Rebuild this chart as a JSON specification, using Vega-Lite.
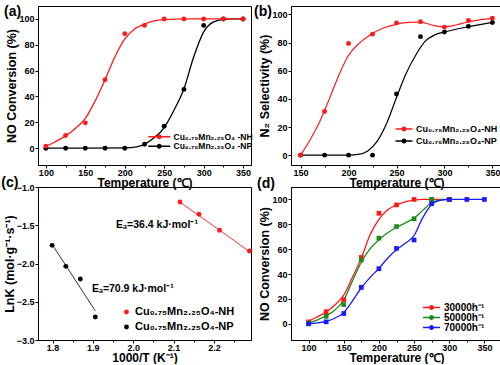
{
  "$schema": "https://vega.github.io/schema/vega-lite/v6.json",
  "padding": {"left": 0, "top": 4, "right": 0, "bottom": 0},
  "columns": 2,
  "spacing": {"row": 22, "column": 40},
  "bounds": "flush",
  "align": "each",
  "resolve": {"scale": {"color": "independent"}, "legend": {"color": "independent"}},
  "config": {
    "font": "Liberation Sans, Arial, sans-serif",
    "view": {"stroke": "black", "strokeWidth": 1},
    "axis": {"grid": false, "domainColor": "black", "tickColor": "black", "labelColor": "black", "titleColor": "black",
      "labelFontWeight": "bold", "titleFontWeight": "bold", "labelFontSize": 9, "titleFontSize": 12.5,
      "tickSize": 3, "labelPadding": 1, "titlePadding": 0, "domainWidth": 1, "tickWidth": 1,
      "labelOverlap": false, "labelFlush": false},
    "axisX": {"labelPadding": 0, "titlePadding": 0.5, "titleFontSize": 12},
    "legend": {"labelFontWeight": "bold", "labelColor": "black", "padding": 0, "offset": 0},
    "title": {"color": "black"}
  },
  "datasets": {
    "a_pts": [
      {"t": 100, "v": 0, "s": "Cu₀.₇₅Mn₂.₂₅O₄ -NP"}, {"t": 125, "v": 0, "s": "Cu₀.₇₅Mn₂.₂₅O₄ -NP"}, {"t": 150, "v": 0, "s": "Cu₀.₇₅Mn₂.₂₅O₄ -NP"},
      {"t": 175, "v": 0, "s": "Cu₀.₇₅Mn₂.₂₅O₄ -NP"}, {"t": 200, "v": 0, "s": "Cu₀.₇₅Mn₂.₂₅O₄ -NP"}, {"t": 225, "v": 3.1, "s": "Cu₀.₇₅Mn₂.₂₅O₄ -NP"},
      {"t": 250, "v": 17, "s": "Cu₀.₇₅Mn₂.₂₅O₄ -NP"}, {"t": 275, "v": 45.5, "s": "Cu₀.₇₅Mn₂.₂₅O₄ -NP"}, {"t": 300, "v": 95, "s": "Cu₀.₇₅Mn₂.₂₅O₄ -NP"},
      {"t": 325, "v": 100, "s": "Cu₀.₇₅Mn₂.₂₅O₄ -NP"}, {"t": 350, "v": 100, "s": "Cu₀.₇₅Mn₂.₂₅O₄ -NP"},
      {"t": 100, "v": 1.6, "s": "Cu₀.₇₅Mn₂.₂₅O₄ -NH"}, {"t": 125, "v": 9.8, "s": "Cu₀.₇₅Mn₂.₂₅O₄ -NH"}, {"t": 150, "v": 19.6, "s": "Cu₀.₇₅Mn₂.₂₅O₄ -NH"},
      {"t": 175, "v": 53, "s": "Cu₀.₇₅Mn₂.₂₅O₄ -NH"}, {"t": 200, "v": 88.6, "s": "Cu₀.₇₅Mn₂.₂₅O₄ -NH"}, {"t": 225, "v": 95, "s": "Cu₀.₇₅Mn₂.₂₅O₄ -NH"},
      {"t": 250, "v": 100, "s": "Cu₀.₇₅Mn₂.₂₅O₄ -NH"}, {"t": 275, "v": 100, "s": "Cu₀.₇₅Mn₂.₂₅O₄ -NH"}, {"t": 300, "v": 100, "s": "Cu₀.₇₅Mn₂.₂₅O₄ -NH"},
      {"t": 325, "v": 100, "s": "Cu₀.₇₅Mn₂.₂₅O₄ -NH"}, {"t": 350, "v": 100, "s": "Cu₀.₇₅Mn₂.₂₅O₄ -NH"}
    ],
    "a_fit": [
      {"t": 100, "v": 0, "s": "NP"}, {"t": 150, "v": 0, "s": "NP"}, {"t": 200, "v": 0.2, "s": "NP"},
      {"t": 215, "v": 1, "s": "NP"}, {"t": 225, "v": 3, "s": "NP"}, {"t": 237, "v": 8, "s": "NP"},
      {"t": 250, "v": 16, "s": "NP"}, {"t": 262, "v": 29, "s": "NP"}, {"t": 275, "v": 46, "s": "NP"},
      {"t": 287, "v": 70, "s": "NP"}, {"t": 300, "v": 90, "s": "NP"}, {"t": 312, "v": 97.5, "s": "NP"},
      {"t": 325, "v": 99.7, "s": "NP"}, {"t": 337, "v": 100, "s": "NP"}, {"t": 350, "v": 100, "s": "NP"},
      {"t": 100, "v": 1.5, "s": "NH"}, {"t": 112, "v": 5, "s": "NH"}, {"t": 125, "v": 9.5, "s": "NH"},
      {"t": 137, "v": 15, "s": "NH"}, {"t": 150, "v": 23, "s": "NH"}, {"t": 162, "v": 36, "s": "NH"},
      {"t": 175, "v": 53, "s": "NH"}, {"t": 187, "v": 70, "s": "NH"}, {"t": 200, "v": 84.5, "s": "NH"},
      {"t": 212, "v": 92, "s": "NH"}, {"t": 225, "v": 96, "s": "NH"}, {"t": 237, "v": 98.5, "s": "NH"},
      {"t": 250, "v": 99.5, "s": "NH"}, {"t": 275, "v": 100, "s": "NH"}, {"t": 300, "v": 100, "s": "NH"},
      {"t": 350, "v": 100, "s": "NH"}
    ],
    "b_pts": [
      {"t": 150, "v": 0, "s": "Cu₀.₇₅Mn₂.₂₅O₄-NP"}, {"t": 175, "v": 0, "s": "Cu₀.₇₅Mn₂.₂₅O₄-NP"}, {"t": 200, "v": 0, "s": "Cu₀.₇₅Mn₂.₂₅O₄-NP"},
      {"t": 225, "v": 0, "s": "Cu₀.₇₅Mn₂.₂₅O₄-NP"}, {"t": 250, "v": 43.5, "s": "Cu₀.₇₅Mn₂.₂₅O₄-NP"}, {"t": 275, "v": 84.2, "s": "Cu₀.₇₅Mn₂.₂₅O₄-NP"},
      {"t": 300, "v": 87.5, "s": "Cu₀.₇₅Mn₂.₂₅O₄-NP"}, {"t": 325, "v": 91.5, "s": "Cu₀.₇₅Mn₂.₂₅O₄-NP"}, {"t": 350, "v": 94.3, "s": "Cu₀.₇₅Mn₂.₂₅O₄-NP"},
      {"t": 150, "v": 0, "s": "Cu₀.₇₅Mn₂.₂₅O₄-NH"}, {"t": 175, "v": 31, "s": "Cu₀.₇₅Mn₂.₂₅O₄-NH"}, {"t": 200, "v": 79.4, "s": "Cu₀.₇₅Mn₂.₂₅O₄-NH"},
      {"t": 225, "v": 86, "s": "Cu₀.₇₅Mn₂.₂₅O₄-NH"}, {"t": 250, "v": 93.9, "s": "Cu₀.₇₅Mn₂.₂₅O₄-NH"}, {"t": 275, "v": 94.8, "s": "Cu₀.₇₅Mn₂.₂₅O₄-NH"},
      {"t": 300, "v": 91, "s": "Cu₀.₇₅Mn₂.₂₅O₄-NH"}, {"t": 325, "v": 95.7, "s": "Cu₀.₇₅Mn₂.₂₅O₄-NH"}, {"t": 350, "v": 97.4, "s": "Cu₀.₇₅Mn₂.₂₅O₄-NH"}
    ],
    "b_fit": [
      {"t": 150, "v": 0, "s": "NP"}, {"t": 200, "v": 0, "s": "NP"}, {"t": 210, "v": 0.5, "s": "NP"},
      {"t": 220, "v": 3, "s": "NP"}, {"t": 230, "v": 10, "s": "NP"}, {"t": 240, "v": 23, "s": "NP"},
      {"t": 250, "v": 41, "s": "NP"}, {"t": 260, "v": 58, "s": "NP"}, {"t": 270, "v": 71, "s": "NP"},
      {"t": 280, "v": 81, "s": "NP"}, {"t": 290, "v": 85.5, "s": "NP"}, {"t": 300, "v": 87.5, "s": "NP"},
      {"t": 312, "v": 89.5, "s": "NP"}, {"t": 325, "v": 91.3, "s": "NP"}, {"t": 337, "v": 92.8, "s": "NP"},
      {"t": 350, "v": 94.3, "s": "NP"},
      {"t": 150, "v": 0, "s": "NH"}, {"t": 160, "v": 11, "s": "NH"}, {"t": 170, "v": 24, "s": "NH"},
      {"t": 180, "v": 40, "s": "NH"}, {"t": 190, "v": 57, "s": "NH"}, {"t": 200, "v": 71, "s": "NH"},
      {"t": 212, "v": 80, "s": "NH"}, {"t": 225, "v": 86.5, "s": "NH"}, {"t": 237, "v": 90.5, "s": "NH"},
      {"t": 250, "v": 93, "s": "NH"}, {"t": 262, "v": 94.3, "s": "NH"}, {"t": 275, "v": 94.5, "s": "NH"},
      {"t": 287, "v": 92.5, "s": "NH"}, {"t": 300, "v": 91, "s": "NH"}, {"t": 312, "v": 92.5, "s": "NH"},
      {"t": 325, "v": 94.8, "s": "NH"}, {"t": 337, "v": 96.2, "s": "NH"}, {"t": 350, "v": 97.2, "s": "NH"}
    ],
    "c_pts": [
      {"x": 2.116, "y": -1.196, "s": "Cu₀.₇₅Mn₂.₂₅O₄-NH"}, {"x": 2.163, "y": -1.357, "s": "Cu₀.₇₅Mn₂.₂₅O₄-NH"},
      {"x": 2.214, "y": -1.566, "s": "Cu₀.₇₅Mn₂.₂₅O₄-NH"}, {"x": 2.288, "y": -1.837, "s": "Cu₀.₇₅Mn₂.₂₅O₄-NH"},
      {"x": 1.799, "y": -1.763, "s": "Cu₀.₇₅Mn₂.₂₅O₄-NP"}, {"x": 1.833, "y": -2.037, "s": "Cu₀.₇₅Mn₂.₂₅O₄-NP"},
      {"x": 1.869, "y": -2.203, "s": "Cu₀.₇₅Mn₂.₂₅O₄-NP"}, {"x": 1.906, "y": -2.70, "s": "Cu₀.₇₅Mn₂.₂₅O₄-NP"}
    ],
    "c_fit": [
      {"x": 2.114, "y": -1.19, "s": "NH"}, {"x": 2.29, "y": -1.85, "s": "NH"},
      {"x": 1.799, "y": -1.75, "s": "NP"}, {"x": 1.906, "y": -2.62, "s": "NP"}
    ],
    "c_ann": [
      {"x": 2.059, "y": -1.5, "label": "Eₐ=36.4 kJ·mol⁻¹"},
      {"x": 1.999, "y": -2.333, "label": "Eₐ=70.9 kJ·mol⁻¹"}
    ],
    "d_pts": [
      {"t": 100, "v": 1.6, "s": "30000h⁻¹"}, {"t": 125, "v": 9.8, "s": "30000h⁻¹"}, {"t": 150, "v": 19.4, "s": "30000h⁻¹"},
      {"t": 175, "v": 53.4, "s": "30000h⁻¹"}, {"t": 200, "v": 88.9, "s": "30000h⁻¹"}, {"t": 225, "v": 95.6, "s": "30000h⁻¹"},
      {"t": 250, "v": 100, "s": "30000h⁻¹"}, {"t": 275, "v": 100, "s": "30000h⁻¹"}, {"t": 300, "v": 100, "s": "30000h⁻¹"},
      {"t": 100, "v": 0.5, "s": "50000h⁻¹"}, {"t": 125, "v": 6, "s": "50000h⁻¹"}, {"t": 150, "v": 15.5, "s": "50000h⁻¹"},
      {"t": 175, "v": 51.3, "s": "50000h⁻¹"}, {"t": 200, "v": 68.9, "s": "50000h⁻¹"}, {"t": 225, "v": 78.2, "s": "50000h⁻¹"},
      {"t": 250, "v": 84.5, "s": "50000h⁻¹"}, {"t": 275, "v": 100, "s": "50000h⁻¹"}, {"t": 300, "v": 100, "s": "50000h⁻¹"},
      {"t": 100, "v": 0, "s": "70000h⁻¹"}, {"t": 125, "v": 1.6, "s": "70000h⁻¹"}, {"t": 150, "v": 8.3, "s": "70000h⁻¹"},
      {"t": 175, "v": 29.3, "s": "70000h⁻¹"}, {"t": 200, "v": 44.3, "s": "70000h⁻¹"}, {"t": 225, "v": 60.6, "s": "70000h⁻¹"},
      {"t": 250, "v": 67.4, "s": "70000h⁻¹"}, {"t": 275, "v": 96.6, "s": "70000h⁻¹"}, {"t": 300, "v": 100, "s": "70000h⁻¹"},
      {"t": 325, "v": 100, "s": "70000h⁻¹"}, {"t": 350, "v": 100, "s": "70000h⁻¹"}
    ],
    "d_fit": [
      {"t": 100, "v": 2, "s": "R"}, {"t": 112, "v": 5.5, "s": "R"}, {"t": 125, "v": 9.5, "s": "R"},
      {"t": 137, "v": 15, "s": "R"}, {"t": 150, "v": 23, "s": "R"}, {"t": 162, "v": 37, "s": "R"},
      {"t": 175, "v": 53, "s": "R"}, {"t": 187, "v": 71, "s": "R"}, {"t": 200, "v": 84, "s": "R"},
      {"t": 212, "v": 91.5, "s": "R"}, {"t": 225, "v": 95.5, "s": "R"}, {"t": 237, "v": 98, "s": "R"},
      {"t": 250, "v": 99.5, "s": "R"}, {"t": 262, "v": 100, "s": "R"}, {"t": 300, "v": 100, "s": "R"},
      {"t": 100, "v": 0.5, "s": "G"}, {"t": 112, "v": 3, "s": "G"}, {"t": 125, "v": 6.5, "s": "G"},
      {"t": 137, "v": 11, "s": "G"}, {"t": 150, "v": 19, "s": "G"}, {"t": 162, "v": 34, "s": "G"},
      {"t": 175, "v": 49.5, "s": "G"}, {"t": 187, "v": 60, "s": "G"}, {"t": 200, "v": 67.5, "s": "G"},
      {"t": 212, "v": 73, "s": "G"}, {"t": 225, "v": 77.5, "s": "G"}, {"t": 237, "v": 81, "s": "G"},
      {"t": 250, "v": 85, "s": "G"}, {"t": 262, "v": 91, "s": "G"}, {"t": 275, "v": 97.5, "s": "G"},
      {"t": 287, "v": 99.7, "s": "G"}, {"t": 300, "v": 100, "s": "G"},
      {"t": 100, "v": 0, "s": "B"}, {"t": 112, "v": 0.8, "s": "B"}, {"t": 125, "v": 2, "s": "B"},
      {"t": 137, "v": 4.5, "s": "B"}, {"t": 150, "v": 9, "s": "B"}, {"t": 162, "v": 18, "s": "B"},
      {"t": 175, "v": 29, "s": "B"}, {"t": 187, "v": 37, "s": "B"}, {"t": 200, "v": 44.5, "s": "B"},
      {"t": 212, "v": 52.5, "s": "B"}, {"t": 225, "v": 59.5, "s": "B"}, {"t": 237, "v": 64.5, "s": "B"},
      {"t": 250, "v": 71, "s": "B"}, {"t": 262, "v": 85, "s": "B"}, {"t": 275, "v": 96, "s": "B"},
      {"t": 287, "v": 99.3, "s": "B"}, {"t": 300, "v": 100, "s": "B"}, {"t": 350, "v": 100, "s": "B"}
    ]
  },
  "concat": [
    {
      "width": 213, "height": 159,
      "title": {"text": "(a)", "anchor": "start", "frame": "bounds", "offset": -13, "fontSize": 14, "fontWeight": "bold", "dx": -2},
      "encoding": {
        "x": {"field": "t", "type": "quantitative", "scale": {"domain": [90, 360], "nice": false, "zero": false},
          "axis": {"title": "Temperature (℃)", "values": [100,125,150,175,200,225,250,275,300,325,350],
            "labelExpr": "datum.value % 50 === 0 ? datum.label : ''",
            "tickSize": {"condition": {"test": "datum.value % 50 === 0", "value": 3}, "value": 2}}},
        "y": {"field": "v", "type": "quantitative", "scale": {"domain": [-13, 110], "nice": false, "zero": false},
          "axis": {"title": "NO Conversion (%)", "values": [0,20,40,60,80,100]}}
      },
      "layer": [
        {"data": {"name": "a_fit"}, "transform": [{"filter": "datum.s === 'NP'"}],
          "mark": {"type": "line", "interpolate": "monotone", "strokeWidth": 1.3, "color": "#000000"}},
        {"data": {"name": "a_fit"}, "transform": [{"filter": "datum.s === 'NH'"}],
          "mark": {"type": "line", "interpolate": "monotone", "strokeWidth": 1.3, "color": "#ff1a1a"}},
        {
          "data": {"name": "a_pts"},
          "mark": {"type": "point", "filled": true, "size": 24, "opacity": 1},
          "encoding": {
            "color": {"field": "s", "type": "nominal",
              "scale": {"domain": ["Cu₀.₇₅Mn₂.₂₅O₄ -NH", "Cu₀.₇₅Mn₂.₂₅O₄ -NP"], "range": ["#ff1a1a", "#000000"]},
              "legend": {"orient": "none", "legendX": 125, "legendY": 126.5, "title": null,
                "symbolType": "M-4.75,-0.19H0.75V0.19H-4.75Z M-2.625,0A0.625,0.625 0 1,1 -1.375,0A0.625,0.625 0 1,1 -2.625,0Z",
                "symbolSize": 64, "symbolStrokeWidth": 0, "labelFontSize": 8.5, "labelFontWeight": "bold", "rowPadding": 0.5, "labelOffset": 2,
                "encode": {"symbols": {"update": {"size": {"value": 64}}}}}}
          }
        }
      ]
    },
    {
      "width": 211, "height": 159,
      "title": {"text": "(b)", "anchor": "start", "frame": "bounds", "offset": -13, "fontSize": 14, "fontWeight": "bold", "dx": -5},
      "encoding": {
        "x": {"field": "t", "type": "quantitative", "scale": {"domain": [140, 360], "nice": false, "zero": false},
          "axis": {"title": "Temperature (℃)", "values": [150,175,200,225,250,275,300,325,350],
            "labelExpr": "datum.value % 50 === 0 ? datum.label : ''",
            "tickSize": {"condition": {"test": "datum.value % 50 === 0", "value": 3}, "value": 2}}},
        "y": {"field": "v", "type": "quantitative", "scale": {"domain": [-7, 106], "nice": false, "zero": false},
          "axis": {"title": "N₂ Selectivity (%)", "values": [0,20,40,60,80,100]}}
      },
      "layer": [
        {"data": {"name": "b_fit"}, "transform": [{"filter": "datum.s === 'NP'"}],
          "mark": {"type": "line", "interpolate": "monotone", "strokeWidth": 1.2, "color": "#000000"}},
        {"data": {"name": "b_fit"}, "transform": [{"filter": "datum.s === 'NH'"}],
          "mark": {"type": "line", "interpolate": "monotone", "strokeWidth": 1.2, "color": "#ff1a1a"}},
        {
          "data": {"name": "b_pts"},
          "mark": {"type": "point", "filled": true, "size": 24, "opacity": 1},
          "encoding": {
            "color": {"field": "s", "type": "nominal",
              "scale": {"domain": ["Cu₀.₇₅Mn₂.₂₅O₄-NH", "Cu₀.₇₅Mn₂.₂₅O₄-NP"], "range": ["#ff1a1a", "#000000"]},
              "legend": {"orient": "none", "legendX": 114, "legendY": 118.5, "title": null,
                "symbolType": "M-3.5,-0.19H0.75V0.19H-3.5Z M-2,0A0.625,0.625 0 1,1 -0.75,0A0.625,0.625 0 1,1 -2,0Z",
                "symbolSize": 64, "symbolStrokeWidth": 0, "labelFontSize": 9, "labelFontWeight": "bold", "rowPadding": 2, "labelOffset": 2,
                "encode": {"symbols": {"update": {"size": {"value": 64}}}}}}
          }
        }
      ]
    },
    {
      "width": 213, "height": 153,
      "title": {"text": "(c)", "anchor": "start", "frame": "bounds", "offset": -7, "fontSize": 14, "fontWeight": "bold", "dx": -2},
      "encoding": {
        "x": {"field": "x", "type": "quantitative", "scale": {"domain": [1.764, 2.292], "nice": false, "zero": false},
          "axis": {"title": "1000/T (K⁻¹)", "values": [1.8,1.85,1.9,1.95,2.0,2.05,2.1,2.15,2.2,2.25], "format": ".1f",
            "labelExpr": "round(datum.value*100) % 10 === 0 ? datum.label : ''",
            "tickSize": {"condition": {"test": "round(datum.value*100) % 10 === 0", "value": 3}, "value": 2}}},
        "y": {"field": "y", "type": "quantitative", "scale": {"domain": [-3, -1], "nice": false, "zero": false},
          "axis": {"title": "LnK (mol·g⁻¹·s⁻¹)", "values": [-3,-2.5,-2,-1.5,-1], "format": ".1f"}}
      },
      "layer": [
        {"data": {"name": "c_fit"}, "transform": [{"filter": "datum.s === 'NP'"}],
          "mark": {"type": "line", "strokeWidth": 1, "color": "#333333"}},
        {"data": {"name": "c_fit"}, "transform": [{"filter": "datum.s === 'NH'"}],
          "mark": {"type": "line", "strokeWidth": 1, "color": "#ff3030"}},
        {
          "data": {"name": "c_pts"},
          "mark": {"type": "point", "filled": true, "size": 24, "opacity": 1},
          "encoding": {
            "color": {"field": "s", "type": "nominal",
              "scale": {"domain": ["Cu₀.₇₅Mn₂.₂₅O₄-NH", "Cu₀.₇₅Mn₂.₂₅O₄-NP"], "range": ["#ff1a1a", "#000000"]},
              "legend": {"orient": "none", "legendX": 83, "legendY": 119.5, "title": null,
                "symbolType": "circle", "symbolSize": 24, "symbolStrokeWidth": 0, "labelFontSize": 11, "labelFontWeight": "bold", "rowPadding": 3, "labelOffset": 3}}
          }
        },
        {
          "data": {"name": "c_ann"},
          "mark": {"type": "text", "fontSize": 10.5, "fontWeight": "bold", "color": "black"},
          "encoding": {"text": {"field": "label"}}
        }
      ]
    },
    {
      "width": 211, "height": 153,
      "title": {"text": "(d)", "anchor": "start", "frame": "bounds", "offset": -4, "fontSize": 14, "fontWeight": "bold", "dx": -2},
      "encoding": {
        "x": {"field": "t", "type": "quantitative", "scale": {"domain": [75, 375], "nice": false, "zero": false},
          "axis": {"title": "Temperature (℃)", "values": [100,125,150,175,200,225,250,275,300,325,350],
            "labelExpr": "datum.value % 50 === 0 ? datum.label : ''",
            "tickSize": {"condition": {"test": "datum.value % 50 === 0", "value": 3}, "value": 2}}},
        "y": {"field": "v", "type": "quantitative", "scale": {"domain": [-13, 110], "nice": false, "zero": false},
          "axis": {"title": "NO Conversion (%)", "values": [0,20,40,60,80,100]}}
      },
      "layer": [
        {"data": {"name": "d_fit"}, "transform": [{"filter": "datum.s === 'R'"}],
          "mark": {"type": "line", "interpolate": "monotone", "strokeWidth": 1.3, "color": "#ff1a1a"}},
        {"data": {"name": "d_fit"}, "transform": [{"filter": "datum.s === 'G'"}],
          "mark": {"type": "line", "interpolate": "monotone", "strokeWidth": 1.3, "color": "#1a8c1a"}},
        {"data": {"name": "d_fit"}, "transform": [{"filter": "datum.s === 'B'"}],
          "mark": {"type": "line", "interpolate": "monotone", "strokeWidth": 1.3, "color": "#1a1aff"}},
        {
          "data": {"name": "d_pts"},
          "mark": {"type": "point", "filled": true, "shape": "square", "size": 22, "opacity": 1},
          "encoding": {
            "color": {"field": "s", "type": "nominal",
              "scale": {"domain": ["30000h⁻¹", "50000h⁻¹", "70000h⁻¹"], "range": ["#ff1a1a", "#1a8c1a", "#1a1aff"]},
              "legend": {"orient": "none", "legendX": 141, "legendY": 115.5, "title": null,
                "symbolType": "M-3.5,-0.19H0.75V0.19H-3.5Z M-2,0A0.625,0.625 0 1,1 -0.75,0A0.625,0.625 0 1,1 -2,0Z",
                "symbolSize": 64, "symbolStrokeWidth": 0, "labelFontSize": 10, "labelFontWeight": "bold", "rowPadding": -1, "labelOffset": 2,
                "encode": {"symbols": {"update": {"size": {"value": 64}}}}}}
          }
        }
      ]
    }
  ]
}
